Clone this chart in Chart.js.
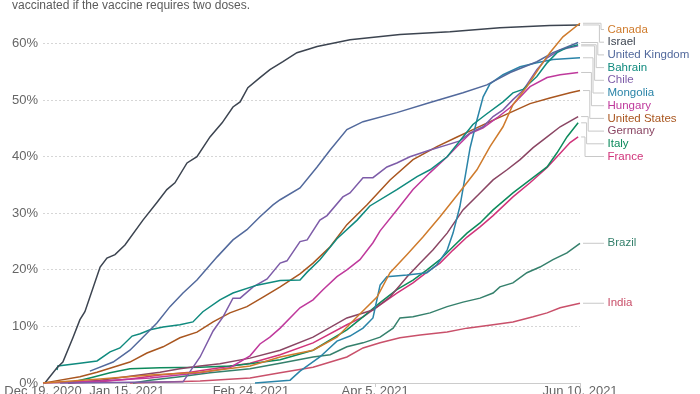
<!DOCTYPE html>
<html>
<head>
<meta charset="utf-8">
<script src="https://cdn.jsdelivr.net/npm/chart.js@4.4.0/dist/chart.umd.min.js"></script>
<style>
  html, body { margin: 0; padding: 0; background: #fff; overflow: hidden; }
  #wrap { position: relative; width: 700px; height: 420px; }
  #note { position: absolute; left: 12px; top: -1px; font: 12px "Liberation Sans", Arial, sans-serif; line-height: 13px; color: #5b5b5b; white-space: nowrap; }
</style>
</head>
<body>
<div id="wrap">
  <canvas id="myChart" width="700" height="420"></canvas>
  <div id="note">vaccinated if the vaccine requires two doses.</div>
</div>
<script>
// days counted from Dec 19, 2020 ; values = % of population with at least one dose
const xTickDays = [0, 27, 67, 107, 173];
const xTickLabels = ['Dec 19, 2020', 'Jan 15, 2021', 'Feb 24, 2021', 'Apr 5, 2021', 'Jun 10, 2021'];
const yTicks = [0, 10, 20, 30, 40, 50, 60];

const countries = ['Canada', 'Israel', 'United Kingdom', 'Bahrain', 'Chile', 'Mongolia', 'Hungary',
  'United States', 'Germany', 'Italy', 'France', 'Brazil', 'India'];

const canada = [[0,0],[18.4,0.7],[34.5,1.4],[50.6,1.9],[66.7,3.0],[76.4,4.6],[87.0,5.8],[94.7,8.1],[101.2,11.7],
  [107.6,15.2],[111.8,19.5],[117.3,22.7],[122.4,25.8],[127.9,29.4],[134.3,33.8],[139.8,37.7],[144.0,41.8],
  [148.2,45.3],[151.4,49.2],[155.9,52.4],[160.1,55.9],[163.3,58.4],[167.5,61.2],[173,63.6]];
const israel = [[0.6,0],[4.5,2.7],[6.4,3.7],[9.7,8.1],[11.9,11.2],[13.5,12.6],[18.4,20.5],[20.6,22.1],[23.2,22.7],
  [26.4,24.4],[32.2,28.8],[36.7,31.9],[39.9,34.2],[42.5,35.4],[46.4,38.9],[49.6,40.0],[53.8,43.5],[57.7,46.0],
  [61.2,48.8],[63.5,49.7],[66.0,52.2],[69.9,54.0],[73.1,55.4],[77.3,56.8],[81.8,58.4],[86.0,59.1],[88.3,59.5],
  [98.9,60.7],[115.0,61.6],[131.1,62.1],[147.2,62.8],[163.3,63.2],[173,63.3]];
const uk = [[15.1,2.1],[22.6,3.7],[28.0,5.8],[32.2,8.1],[36.7,10.6],[40.9,13.5],[45.1,15.9],[49.6,18.2],[56.1,22.3],
  [61.2,25.3],[65.7,27.1],[69.9,29.4],[74.1,31.5],[76.4,32.4],[82.8,34.5],[88.3,38.2],[92.5,41.2],[97.9,44.8],
  [103.1,46.2],[114.0,47.8],[124.7,49.6],[135.3,51.3],[143.0,52.7],[150.5,54.9],[159.1,56.8],[164.3,58.4],[172.4,60.2]];
const bahrain = [[4.5,2.3],[4.8,3.0],[11.9,3.5],[17.4,3.9],[21.6,5.5],[24.8,6.2],[28.7,8.3],[31.3,8.7],[34.5,9.4],
  [38.7,9.9],[44.1,10.3],[48.3,10.8],[51.5,12.6],[57.0,14.7],[61.2,15.9],[68.9,17.3],[76.4,18.1],[82.8,18.2],
  [85.1,19.6],[89.2,21.8],[94.7,25.5],[101.2,28.8],[105.3,31.3],[114.0,34.2],[120.5,36.5],[124.7,37.7],[130.2,40.0],
  [135.3,43.5],[138.5,45.7],[143.0,47.6],[148.2,49.7],[151.4,51.3],[154.6,51.9],[159.1,54.2],[162.4,56.6],
  [165.6,58.4],[168.8,59.3],[172.4,59.8]];
const chile = [[5.5,0],[45.1,0.2],[50.6,4.6],[54.8,9.2],[58.0,11.7],[61.2,15.0],[63.5,15.0],[67.7,17.0],[72.2,18.4],
  [76.4,21.2],[78.6,21.6],[82.8,25.0],[85.1,25.3],[89.2,28.8],[91.5,29.6],[96.6,32.9],[98.9,33.6],[103.1,36.3],
  [106.3,36.3],[110.8,38.2],[114.0,38.9],[118.2,40.0],[124.7,41.2],[130.2,42.1],[134.3,42.8],[137.6,44.2],
  [141.8,45.3],[145.0,47.1],[148.2,48.3],[151.4,50.1],[154.6,51.7],[159.1,55.4],[162.4,57.5],[166.6,58.9],[172.4,59.6]];
const mongolia = [[68.3,0],[79.6,0.5],[82.8,2.1],[89.2,4.6],[94.7,7.4],[98.9,8.3],[103.1,9.7],[106.3,11.5],
  [108.6,17.3],[110.8,18.8],[117.3,19.1],[123.7,19.5],[126.9,20.9],[130.2,23.5],[132.1,26.5],[134.3,31.2],
  [136.0,36.5],[137.6,41.6],[139.8,46.5],[141.8,50.6],[144.0,52.9],[148.2,54.5],[153.7,55.9],[159.1,56.6],
  [164.3,57.2],[173,57.5]];
const hungary = [[0,0],[18.4,0.35],[34.5,0.9],[50.6,1.8],[60.2,2.7],[66.7,4.8],[69.9,6.9],[73.1,8.1],[76.4,9.7],
  [82.8,13.3],[87.0,14.7],[90.2,16.5],[94.7,18.8],[97.9,20.0],[102.1,21.8],[106.3,24.8],[108.6,26.9],[114.0,30.6],
  [119.2,34.2],[124.7,37.2],[130.2,40.0],[133.4,41.8],[137.6,44.1],[141.8,45.1],[146.3,46.9],[150.5,48.7],
  [156.9,52.4],[162.4,54.0],[166.6,54.5],[172.4,54.9]];
const usa = [[0,0],[2.3,0.2],[11.9,1.1],[17.4,1.9],[22.6,2.8],[28.0,3.7],[33.5,5.3],[38.7,6.4],[44.1,8.0],[49.6,9.0],
  [54.8,10.8],[60.2,12.4],[65.7,13.5],[70.9,15.2],[76.4,17.0],[82.8,19.3],[87.0,21.2],[92.5,24.1],[97.9,28.0],
  [104.4,31.5],[111.8,35.9],[119.2,39.5],[126.9,41.8],[133.4,43.5],[138.5,44.8],[144.0,46.2],[150.5,47.8],
  [156.9,49.4],[163.3,50.4],[169.8,51.3],[173,51.7]];
const germany = [[8.1,0],[18.4,0.5],[28.0,1.2],[37.7,1.9],[44.1,2.5],[50.6,3.0],[57.0,3.4],[66.7,4.4],[76.4,5.8],
  [87.0,8.1],[97.9,11.5],[106.3,12.9],[111.8,15.2],[117.3,18.8],[121.5,21.2],[125.6,23.5],[130.2,26.5],[135.3,30.6],
  [140.8,33.6],[145.0,35.9],[149.5,37.7],[153.7,39.5],[157.9,41.6],[162.4,43.5],[166.6,45.3],[172.4,47.1]];
const italy = [[8.1,0],[15.1,0.9],[21.6,1.8],[28.0,2.5],[37.7,2.7],[50.6,2.8],[60.2,3.0],[66.7,3.4],[76.4,4.1],
  [87.0,5.8],[97.9,9.4],[103.1,11.7],[108.6,14.2],[114.0,16.5],[119.2,18.2],[123.7,20.0],[127.9,21.8],[132.1,24.1],
  [136.6,26.5],[140.8,28.3],[145.0,30.6],[151.4,33.6],[156.9,35.9],[162.4,38.2],[165.6,40.7],[168.8,43.5],[172.4,46.0]];
const france = [[8.1,0],[18.4,0.2],[28.0,0.7],[37.7,1.4],[47.4,1.9],[57.0,2.7],[66.7,3.5],[76.4,5.0],[87.0,7.1],
  [97.9,10.3],[103.1,11.7],[108.6,13.8],[114.0,15.9],[119.2,17.7],[123.7,19.6],[127.9,21.2],[132.1,23.5],
  [136.6,25.8],[140.8,27.6],[145.0,29.6],[151.4,32.9],[156.9,35.4],[162.4,38.1],[165.6,40.0],[169.8,42.5],[172.4,43.5]];
const brazil = [[29.0,0],[34.5,0.5],[44.1,1.1],[53.8,1.8],[66.7,2.5],[76.4,3.5],[87.0,4.6],[92.5,5.0],[97.9,6.4],
  [103.1,7.1],[108.6,8.1],[112.8,9.7],[115.0,11.5],[119.2,11.7],[124.7,12.4],[130.2,13.5],[135.3,14.3],[140.8,15.0],
  [145.0,15.9],[147.2,17.0],[151.4,17.7],[155.9,19.5],[160.1,20.5],[164.3,21.8],[168.8,23.0],[173,24.7]];
const india = [[28.0,0],[50.6,0.35],[66.7,0.9],[76.4,1.8],[87.0,2.8],[97.9,4.6],[103.1,6.2],[108.6,7.1],[115.0,8.0],
  [121.5,8.5],[130.2,9.0],[136.6,9.7],[145.0,10.3],[151.4,10.8],[157.9,11.7],[162.4,12.4],[166.6,13.3],[173,14.1]];

const series = [canada, israel, uk, bahrain, chile, mongolia, hungary, usa, germany, italy, france, brazil, india];
const colors = ['#cf7b2c', '#3c4450', '#52699c', '#0f8a7e', '#7d5ca8', '#2a84a8', '#bf399c',
  '#a9561f', '#8a4563', '#0d8a5c', '#d0337a', '#35806c', '#c9506a'];

const fontFamily = '"Liberation Sans", Arial, sans-serif';

// labels at the right end of each line, with elbow connectors
const endLabels = {
  id: 'endLabels',
  afterDatasetsDraw(chart) {
    const ctx = chart.ctx;
    const items = chart.data.datasets.map((ds, i) => {
      const pts = chart.getDatasetMeta(i).data;
      const last = pts[pts.length - 1];
      return { name: ds.label, color: ds.borderColor, x: last.x, y: last.y };
    }).sort((a, b) => a.y - b.y);
    let prev = -Infinity;
    items.forEach(it => {
      it.ly = Math.max(it.y, prev + 12.7, 29.5);
      prev = it.ly;
    });
    const bent = items.filter(it => it.ly - it.y > 1);
    ctx.save();
    ctx.strokeStyle = '#c8c8c8';
    ctx.lineWidth = 1;
    items.forEach(it => {
      ctx.beginPath();
      const k = bent.indexOf(it);
      if (k >= 0) {
        const xm = 601 - k * 1.6;
        ctx.moveTo(it.x + 3, it.y);
        ctx.lineTo(xm, it.y);
        ctx.lineTo(xm, it.ly);
        ctx.lineTo(604, it.ly);
      } else {
        ctx.moveTo(it.x + 3, it.y);
        ctx.lineTo(604, it.ly);
      }
      ctx.stroke();
    });
    ctx.font = '11.5px ' + fontFamily;
    ctx.textBaseline = 'middle';
    ctx.textAlign = 'left';
    items.forEach(it => {
      ctx.fillStyle = it.color;
      ctx.fillText(it.name, 607.5, it.ly);
    });
    ctx.restore();
  }
};

const config = {
  type: 'line',
  data: {
    datasets: series.map((s, i) => ({
      label: countries[i],
      data: s.map(p => ({ x: p[0], y: p[1] })),
      borderColor: colors[i],
      backgroundColor: colors[i],
      borderWidth: 1.5,
      pointRadius: 0,
      tension: 0,
      clip: false
    }))
  },
  options: {
    responsive: false,
    animation: false,
    layout: { padding: { top: 21, right: 120, left: 0, bottom: 0 } },
    plugins: { legend: { display: false }, tooltip: { enabled: false } },
    scales: {
      x: {
        type: 'linear',
        min: 0,
        max: 173,
        afterBuildTicks: sc => { sc.ticks = xTickDays.map(v => ({ value: v })); },
        afterFit: sc => { sc.height = 37; },
        ticks: {
          autoSkip: false,
          maxRotation: 0,
          padding: -2,
          color: '#666',
          font: { family: fontFamily, size: 13, lineHeight: 1 },
          callback: (v, i) => xTickLabels[i]
        },
        grid: { drawOnChartArea: false, drawTicks: true, tickLength: 4, tickColor: '#ccc' },
        border: { display: true, color: '#ccc' }
      },
      y: {
        min: 0,
        max: 64,
        afterBuildTicks: sc => { sc.ticks = yTicks.map(v => ({ value: v })); },
        afterFit: sc => { sc.width = 43; },
        ticks: {
          padding: 5,
          color: '#666',
          font: { family: fontFamily, size: 13 },
          callback: v => v + '%'
        },
        grid: {
          drawTicks: false,
          color: c => (c.tick && c.tick.value === 0) ? 'rgba(0,0,0,0)' : '#d6d6d6'
        },
        border: { display: false, dash: [2, 2] }
      }
    }
  },
  plugins: [endLabels]
};

const myChart = new Chart(document.getElementById('myChart'), config);
</script>
</body>
</html>
